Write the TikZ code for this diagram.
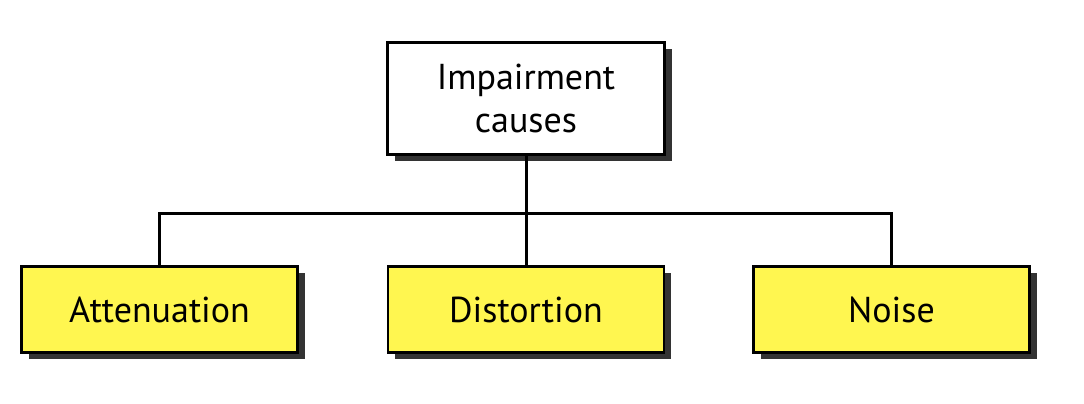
\documentclass[tikz,border=0pt]{standalone}
\usepackage{fontspec}
\setmainfont{PT Sans}
\usetikzlibrary{shadows}
\definecolor{boxyellow}{HTML}{FFF650}
\definecolor{shadowgray}{HTML}{333333}
\begin{document}
\begin{tikzpicture}[x=1pt,y=1pt,
  box/.style={draw=black, line width=2.5pt, inner sep=0pt, align=center,
    font=\fontsize{36}{43}\selectfont,
    drop shadow={shadow xshift=7pt, shadow yshift=-7pt, fill=shadowgray, opacity=1}},
  topbox/.style={box, fill=white, minimum width=277pt, minimum height=112pt},
  leafbox/.style={box, fill=boxyellow, minimum width=276pt, minimum height=86pt},
  link/.style={line width=3pt, line join=miter}]
\useasboundingbox (0,0) rectangle (1084,404);
\node[topbox] (root) at (526,305.5) {Impairment\\causes};
\node[leafbox] (att) at (159.5,94.5) {Attenuation};
\node[leafbox] (dis) at (526,94.5) {Distortion};
\node[leafbox] (noi) at (891.5,94.5) {Noise};
\coordinate (bus) at (526,190);
\draw[link] (root.south) -- (dis.north);
\draw[link] (att.north) |- (bus) -| (noi.north);
\end{tikzpicture}
\end{document}
